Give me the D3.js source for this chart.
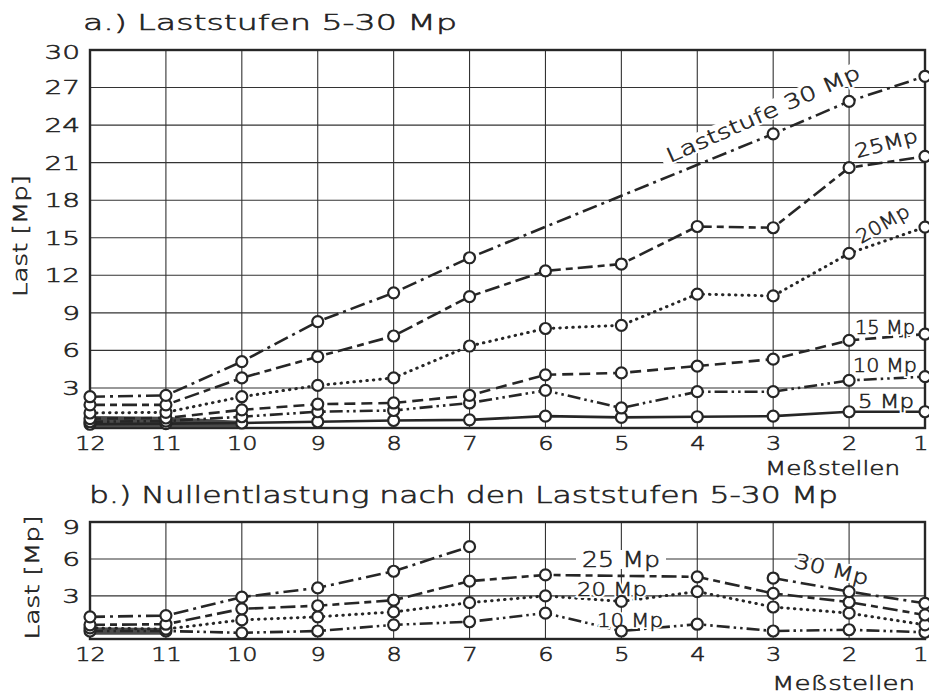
<!DOCTYPE html>
<html>
<head>
<meta charset="utf-8">
<script src="https://cdn.jsdelivr.net/npm/d3@7/dist/d3.min.js"></script>
<style>
  html, body { margin: 0; padding: 0; background: #fff; }
  svg { display: block; }
  text { font-family: "DejaVu Sans", sans-serif; font-weight: 200; fill: #222; stroke: #222; stroke-width: 0.55px; }
  text.halo { fill: #fff; stroke: #fff; stroke-width: 4px; }
</style>
</head>
<body>
<svg id="chart" width="929" height="698"></svg>
<script>
// Measuring stations (Meßstellen), ordered as on the axis
const stations = [12, 11, 10, 9, 8, 7, 6, 5, 4, 3, 2, 1];

// a.) Loads at each load step [Mp]; null = no measurement
const top30 = [2.3, 2.4, 5.1, 8.3, 10.6, 13.4, null, null, null, 23.3, 25.9, 27.9];
const top25 = [1.65, 1.65, 3.8, 5.5, 7.15, 10.3, 12.35, 12.9, 15.9, 15.8, 20.6, 21.5];
const top20 = [1.0, 1.05, 2.3, 3.2, 3.8, 6.35, 7.75, 8.0, 10.5, 10.35, 13.75, 15.85];
const top15 = [0.55, 0.6, 1.25, 1.7, 1.8, 2.4, 4.05, 4.2, 4.75, 5.3, 6.8, 7.3];
const top10 = [0.3, 0.35, 0.7, 1.1, 1.2, 1.8, 2.8, 1.4, 2.7, 2.7, 3.6, 3.9];
const top5  = [0.1, 0.15, 0.2, 0.3, 0.4, 0.45, 0.75, 0.65, 0.7, 0.75, 1.1, 1.1];
// dense overlap of the lowest curves at stations 12–10
const topBand = [0.75, 0.7, 0.35];

// b.) Residual load after unloading to zero [Mp]
const bot30 = [1.3, 1.4, 2.9, 3.65, 5.0, 7.0, null, null, null, 4.45, 3.35, 2.4];
const bot25 = [0.65, 0.7, 1.95, 2.2, 2.65, 4.2, 4.7, null, 4.55, 3.2, 2.5, 1.45];
const bot20 = [0.4, 0.3, 1.05, 1.3, 1.7, 2.45, 3.0, 2.55, 3.35, 2.1, 1.6, 0.65];
const bot10 = [0.15, 0.15, 0.0, 0.15, 0.65, 0.9, 1.6, 0.15, 0.7, 0.15, 0.25, 0.05];
const botBand = [0.45, 0.4];

// Axis ticks
const topYTicks = [3, 6, 9, 12, 15, 18, 21, 24, 27, 30];
const botYTicks = [3, 6, 9];

// Texts
const titleA = "a.) Laststufen  5-30 Mp";
const titleB = "b.) Nullentlastung  nach  den  Laststufen  5-30 Mp";
const yLabel = "Last [Mp]";
const xLabel = "Meßstellen";
const topLabels = ["Laststufe  30 Mp", "25Mp", "20Mp", "15 Mp", "10 Mp", "5 Mp"];
const botLabels = ["25 Mp", "30 Mp", "20 Mp", "10 Mp"];

const svg = d3.select("#chart");
const ink = "#262626";

const x = d3.scaleLinear().domain([12, 1]).range([90, 925]);
const yTop = d3.scaleLinear().domain([-0.2, 30]).range([428, 50]);
const yBot = d3.scaleLinear().domain([-0.5, 9]).range([639, 522]);

const dash = {
  dashDot: "15,5,3,5",
  dashShort: "15,5,7,5",
  dotted: "0.5,6",
  dashed: "11,6",
  dashDotDot: "13,4,2.5,4,2.5,4",
  solid: null
};

// stretch a text horizontally to the wide drafting lettering
function widen(sel, factor) {
  sel.each(function () {
    const w = this.getComputedTextLength();
    d3.select(this).attr("textLength", w * factor).attr("lengthAdjust", "spacingAndGlyphs");
  });
}
function fitTo(sel, len) {
  sel.attr("textLength", len).attr("lengthAdjust", "spacingAndGlyphs");
}

function panel(y, yTicks, yTitleX, yTitleLen, yTickShift) {
  const g = svg.append("g");
  const [y0, y1] = y.range();
  g.selectAll("line.h").data(yTicks.filter(t => t < y.domain()[1]))
    .join("line")
    .attr("x1", x(12)).attr("x2", x(1))
    .attr("y1", d => y(d)).attr("y2", d => y(d))
    .attr("stroke", "#333").attr("stroke-width", 1.1);
  g.selectAll("line.v").data(stations.slice(1, -1))
    .join("line")
    .attr("x1", d => x(d)).attr("x2", d => x(d))
    .attr("y1", y1).attr("y2", y0)
    .attr("stroke", "#333").attr("stroke-width", 1.1);
  g.append("rect")
    .attr("x", x(12)).attr("y", y1)
    .attr("width", x(1) - x(12)).attr("height", y0 - y1)
    .attr("fill", "none").attr("stroke", ink).attr("stroke-width", 2.4);

  const ay = g.append("g").attr("transform", `translate(${x(12)},0)`)
    .call(d3.axisLeft(y).tickValues(yTicks).tickSize(0).tickPadding(10).tickFormat(d3.format("d")));
  ay.select(".domain").remove();
  ay.selectAll("text").attr("font-size", 20)
    .style("font-family", "DejaVu Sans").attr("fill", "#222")
    .call(widen, 1.4);
  ay.selectAll(".tick").filter(d => d === y.domain()[1]).select("text").attr("y", yTickShift);

  const ax = g.append("g").attr("transform", `translate(0,${y0})`)
    .call(d3.axisBottom(x).tickValues(stations).tickSize(0).tickPadding(8).tickFormat(d3.format("d")));
  ax.select(".domain").remove();
  ax.selectAll("text").attr("font-size", 20)
    .style("font-family", "DejaVu Sans").attr("fill", "#222")
    .call(widen, 1.2);
  // last station label kept inside the page edge
  ax.selectAll(".tick").filter(d => d === 1).select("text")
    .attr("text-anchor", "end").attr("x", 3);

  const t = g.append("text")
    .attr("transform", `translate(${yTitleX},${(y0 + y1) / 2 - 3}) rotate(-90)`)
    .attr("text-anchor", "middle").attr("font-size", 20)
    .text(yLabel);
  fitTo(t, yTitleLen);
  return g;
}

function band(g, y, vals) {
  const pts = vals.map((v, i) => ({ s: stations[i], v }));
  g.append("path").datum(pts)
    .attr("d", d3.area().x(d => x(d.s)).y0(y(-0.15)).y1(d => y(d.v)))
    .attr("fill", "#4a4a4a");
}

// connect = true draws straight through stations without a reading
function series(g, y, vals, pattern, connect) {
  const all = vals.map((v, i) => ({ s: stations[i], v }));
  const pts = all.filter(d => d.v != null);
  const line = d3.line().defined(d => d.v != null).x(d => x(d.s)).y(d => y(d.v));
  const p = g.append("path").datum(connect ? pts : all)
    .attr("d", line)
    .attr("fill", "none").attr("stroke", ink)
    .attr("stroke-width", pattern === dash.dotted ? 3 : 2.6)
    .attr("stroke-linecap", pattern === dash.dotted ? "round" : "butt");
  if (pattern) p.attr("stroke-dasharray", pattern);
  return pts;
}

function markers(g, y, pts) {
  g.selectAll(null).data(pts).join("circle")
    .attr("cx", d => x(d.s)).attr("cy", d => y(d.v)).attr("r", 5.5)
    .attr("fill", "#fff").attr("stroke", ink).attr("stroke-width", 2.2);
}

// curve label with a white knock-out behind it; boxed labels clear the grid around them
function label(g, text, px, py, angle, size, len, boxed) {
  const lg = g.append("g").attr("transform", `translate(${px},${py}) rotate(${angle})`);
  const bg = lg.append("rect").attr("fill", "#fff");
  ["halo", "ink"].forEach(cls => {
    const t = lg.append("text").attr("class", cls).attr("font-size", size).text(text);
    fitTo(t, len);
  });
  if (boxed) {
    const b = lg.select("text.ink").node().getBBox();
    bg.attr("x", b.x - 6).attr("y", b.y + 2).attr("width", b.width + 12).attr("height", b.height - 5);
  }
}

// ---------- panel a ----------
const gA = panel(yTop, topYTicks, 27, 122, 2);
band(gA, yTop, topBand);
const topSets = [
  [top5, dash.solid], [top10, dash.dashDotDot], [top15, dash.dashed],
  [top20, dash.dotted], [top25, dash.dashShort], [top30, dash.dashDot]
];
const topPts = topSets.map(([vals, pat]) => series(gA, yTop, vals, pat, true));
label(gA, topLabels[0], 670, 163, -24, 20, 210, true);
label(gA, topLabels[1], 857, 158, -15, 19, 64);
label(gA, topLabels[2], 861, 244, -30, 19, 58);
label(gA, topLabels[3], 855, 334, 0, 19, 60);
label(gA, topLabels[4], 853, 372, 0, 19, 64);
label(gA, topLabels[5], 858, 408, 0, 19, 56);
topPts.forEach(p => markers(gA, yTop, p));

const tA = svg.append("text").attr("x", 83).attr("y", 30).attr("font-size", 22).text(titleA);
fitTo(tA, 374);
const mA = svg.append("text").attr("x", 765).attr("y", 475).attr("font-size", 19).text(xLabel);
fitTo(mA, 135);

// ---------- panel b ----------
const gB = panel(yBot, botYTicks, 39, 124, 5);
band(gB, yBot, botBand);
const botSets = [
  [bot10, dash.dashDotDot, true], [bot20, dash.dotted, true],
  [bot25, dash.dashShort, true], [bot30, dash.dashDot, false]
];
const botPts = botSets.map(([vals, pat, c]) => series(gB, yBot, vals, pat, c));
label(gB, botLabels[0], 582, 567, 0, 21, 78, true);
label(gB, botLabels[1], 793, 567, 14, 20, 76);
label(gB, botLabels[2], 577, 596, 0, 20, 70);
label(gB, botLabels[3], 597, 627, 0, 20, 66);
botPts.forEach(p => markers(gB, yBot, p));

const tB = svg.append("text").attr("x", 89).attr("y", 503).attr("font-size", 23).text(titleB);
fitTo(tB, 749);
const mB = svg.append("text").attr("x", 772).attr("y", 690).attr("font-size", 20).text(xLabel);
fitTo(mB, 143);
</script>
</body>
</html>
